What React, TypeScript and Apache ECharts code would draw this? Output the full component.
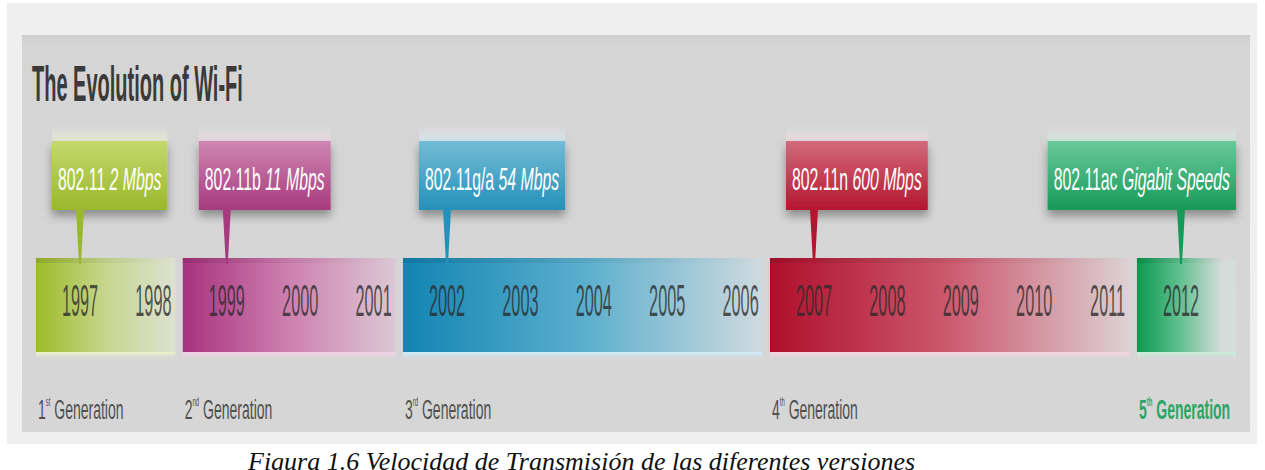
import React, { useEffect, useRef } from "react";
import * as echarts from "echarts";

// ---------- data ----------
const title = "The Evolution of Wi-Fi";
const caption = "Figura 1.6 Velocidad de Transmisión de las diferentes versiones";
const genNumbers = ["1", "2", "3", "4", "5"];
const genOrdinals = ["st", "nd", "rd", "th", "th"];
const genWord = " Generation";
const startYears = [1997, 1999, 2002, 2007, 2012];
const endYears = [1998, 2001, 2006, 2011, 2012];
const standards = ["802.11", "802.11b", "802.11g/a", "802.11n", "802.11ac"];
const speeds = ["2 Mbps", "11 Mbps", "54 Mbps", "600 Mbps", "Gigabit Speeds"];

// ---------- styles / layout ----------
const FONT = "'Liberation Sans', Arial, sans-serif";
const SERIF = "'Liberation Serif', 'Times New Roman', serif";
const W = 1265;
const H = 470;
const PANEL = { x: 22, y: 35, w: 1228, h: 397 };
const FRAME = { x: 7, y: 3, w: 1250, h: 441 };
const BAR_TOP = 258;
const BAR_BOTTOM = 352;
const YEAR_Y = 301;
const YEAR_FS = 44;
const YEAR_SX = 0.37;
const BOX_TOP = 141;
const BOX_BOTTOM = 210;
const BOX_OFF = 28;
const BOX_PAD = 6;
const BOX_FS = 31;
const BOX_SX = 0.51;
const GEN_Y = 410;
const GEN_FS = 28;
const GEN_SX = 0.5;
const PAD_L = 0.6;
const PAD_R = 0.3;
const PAD_R_LAST = 0.75;

const barStops = [
  ["#9cbb28", "#c6d68e", "#dde1d2"],
  ["#a8327e", "#cd80b0", "#dcc8d4"],
  ["#1285b3", "#5aaecd", "#cfdadf"],
  ["#b00f2b", "#cc5a6f", "#ddd1d4"],
  ["#0b9a4f", "#5fbf8f", "#d5dcd9"],
];
const boxTop = ["#c4d86e", "#cf85b2", "#72bcd6", "#d26a7c", "#6ac89a"];
const boxBottom = ["#9ab82c", "#a63a7e", "#2590b9", "#b5162f", "#169a58"];
const tints = ["#eef2c8", "#f6d2e8", "#cdeefa", "#f6d6dc", "#c8f0dc"];
const genColors = ["#505050", "#505050", "#505050", "#505050", "#2ea565"];

export default function App() {
  const ref = useRef<HTMLDivElement>(null);
  useEffect(() => {
    if (!ref.current) return;
    const ctx = document.createElement("canvas").getContext("2d")!;
    const measure = (t: string, font: string) => {
      ctx.font = font;
      return ctx.measureText(t).width;
    };
    const boxWidths = standards.map(
      (s, i) =>
        (measure(s + " ", `${BOX_FS}px 'Liberation Sans'`) +
          measure(speeds[i], `italic ${BOX_FS}px 'Liberation Sans'`)) *
          BOX_SX +
        2 * BOX_PAD
    );
    const n = startYears.length;
    const chart = echarts.init(ref.current, undefined, { renderer: "svg" });

    const renderItem = (params: any, api: any) => {
      const i = params.dataIndex;
      const s = api.value(0) as number;
      const e = api.value(1) as number;
      const xOf = (v: number) => api.coord([v, 0])[0];
      const x0 = xOf(s - PAD_L);
      const x1 = xOf(e + (i === n - 1 ? PAD_R_LAST : PAD_R));
      const st = barStops[i];
      const lastFade = i === n - 1 ? 0.85 : 1;
      const children: any[] = [];
      children.push({
        type: "rect",
        shape: { x: x0, y: BAR_TOP, width: x1 - x0, height: BAR_BOTTOM - BAR_TOP },
        style: {
          fill: new echarts.graphic.LinearGradient(0, 0, 1, 0, [
            { offset: 0, color: st[0] },
            { offset: 0.5 * lastFade, color: st[1] },
            { offset: lastFade, color: st[2] },
            { offset: 1, color: st[2] },
          ]),
        },
      });
      children.push({
        type: "rect",
        shape: { x: x0, y: BAR_TOP, width: x1 - x0, height: 5 },
        style: {
          fill: new echarts.graphic.LinearGradient(0, 0, 1, 0, [
            { offset: 0, color: "rgba(0,0,0,0.10)" },
            { offset: 1, color: "rgba(0,0,0,0)" },
          ]),
        },
      });
      children.push({
        type: "rect",
        shape: { x: x0, y: BAR_BOTTOM, width: x1 - x0, height: 9 },
        style: {
          fill: new echarts.graphic.LinearGradient(0, 0, 0, 1, [
            { offset: 0, color: tints[i] },
            { offset: 1, color: "rgba(214,214,214,0)" },
          ]),
        },
      });
      for (let y = s; y <= e; y++) {
        children.push({
          type: "text",
          x: xOf(y),
          y: YEAR_Y,
          scaleX: YEAR_SX,
          style: {
            text: String(y),
            fontFamily: FONT,
            fontSize: YEAR_FS,
            fill: "#2a2a2a",
            opacity: 0.78,
            textAlign: "center",
            textVerticalAlign: "middle",
          },
        });
      }
      // callout
      const px = xOf(s);
      const bw = boxWidths[i];
      const bx = Math.min(px - BOX_OFF, PANEL.x + PANEL.w - 14 - bw);
      children.push({
        type: "rect",
        shape: { x: bx, y: BOX_TOP - 16, width: bw, height: 16 },
        style: {
          fill: new echarts.graphic.LinearGradient(0, 0, 0, 1, [
            { offset: 0, color: "rgba(240,240,240,0)" },
            { offset: 1, color: tints[i] },
          ]),
          opacity: 0.6,
        },
      });
      children.push({
        type: "rect",
        shape: { x: bx, y: BOX_TOP, width: bw, height: BOX_BOTTOM - BOX_TOP },
        style: {
          fill: new echarts.graphic.LinearGradient(0, 0, 0, 1, [
            { offset: 0, color: boxTop[i] },
            { offset: 1, color: boxBottom[i] },
          ]),
          shadowBlur: 10,
          shadowOffsetY: 6,
          shadowColor: "rgba(0,0,0,0.35)",
        },
      });
      children.push({
        type: "polygon",
        shape: {
          points: [
            [px - 4, BOX_BOTTOM - 1],
            [px + 4, BOX_BOTTOM - 1],
            [px + 1, BAR_TOP + 6],
            [px - 1, BAR_TOP + 6],
          ],
        },
        style: { fill: boxBottom[i] },
      });
      children.push({
        type: "text",
        x: bx + bw / 2,
        y: (BOX_TOP + BOX_BOTTOM) / 2 + 4,
        scaleX: BOX_SX,
        style: {
          text: `{a|${standards[i]} }{b|${speeds[i]}}`,
          textAlign: "center",
          textVerticalAlign: "middle",
          rich: {
            a: { fontFamily: FONT, fontSize: BOX_FS, fill: "#ffffff", color: "#ffffff" },
            b: {
              fontFamily: FONT,
              fontSize: BOX_FS,
              fontStyle: "italic",
              fill: "#ffffff",
              color: "#ffffff",
            },
          },
        },
      });
      const fw = i === n - 1 ? "bold" : "normal";
      children.push({
        type: "text",
        x: x0 + 2,
        y: GEN_Y,
        scaleX: GEN_SX,
        style: {
          text: `{n|${genNumbers[i]}}{s|${genOrdinals[i]}}{t|${genWord}}`,
          textAlign: "left",
          textVerticalAlign: "middle",
          rich: {
            n: { fontFamily: FONT, fontSize: GEN_FS, lineHeight: GEN_FS, fill: genColors[i], color: genColors[i], fontWeight: fw },
            s: { fontFamily: FONT, fontSize: 12, lineHeight: 15, verticalAlign: "top", fill: genColors[i], color: genColors[i], fontWeight: fw },
            t: { fontFamily: FONT, fontSize: GEN_FS, lineHeight: GEN_FS, fill: genColors[i], color: genColors[i], fontWeight: fw },
          },
        },
      });
      return { type: "group", children };
    };

    chart.setOption({
      animation: false,
      backgroundColor: "#ffffff",
      grid: { left: 6.6, width: 1247.8, top: 0, bottom: 0 },
      xAxis: { type: "value", min: 1996, max: 2013, show: false },
      yAxis: { type: "value", min: 0, max: 1, show: false },
      graphic: [
        {
          type: "rect",
          z: -10,
          shape: { x: FRAME.x, y: FRAME.y, width: FRAME.w, height: FRAME.h },
          style: { fill: "#efefef" },
        },
        {
          type: "rect",
          z: -9,
          shape: { x: PANEL.x, y: PANEL.y, width: PANEL.w, height: PANEL.h },
          style: {
            fill: new echarts.graphic.LinearGradient(0, 0, 0, 1, [
              { offset: 0, color: "#cdcdcd" },
              { offset: 0.02, color: "#d5d5d5" },
              { offset: 1, color: "#d6d6d6" },
            ]),
          },
        },
        {
          type: "text",
          z: 5,
          x: 32,
          y: 84,
          scaleX: 0.4,
          style: {
            text: title,
            fontFamily: FONT,
            fontSize: 50,
            fontWeight: "bold",
            fill: "#3a3a3a",
            textAlign: "left",
            textVerticalAlign: "middle",
          },
        },
        {
          type: "text",
          z: 5,
          x: 248,
          y: 448,
          style: {
            text: caption,
            fontFamily: SERIF,
            fontSize: 26,
            fontStyle: "italic",
            fill: "#111111",
            textAlign: "left",
            textVerticalAlign: "top",
          },
        },
      ],
      series: [
        {
          type: "custom",
          renderItem,
          clip: false,
          encode: { x: [0, 1] },
          data: startYears.map((s, i) => [s, endYears[i], i]),
        },
      ],
    });
    return () => chart.dispose();
  }, []);
  return (
    <div
      ref={ref}
      style={{ position: "absolute", left: 0, top: 0, width: W, height: H }}
    />
  );
}
